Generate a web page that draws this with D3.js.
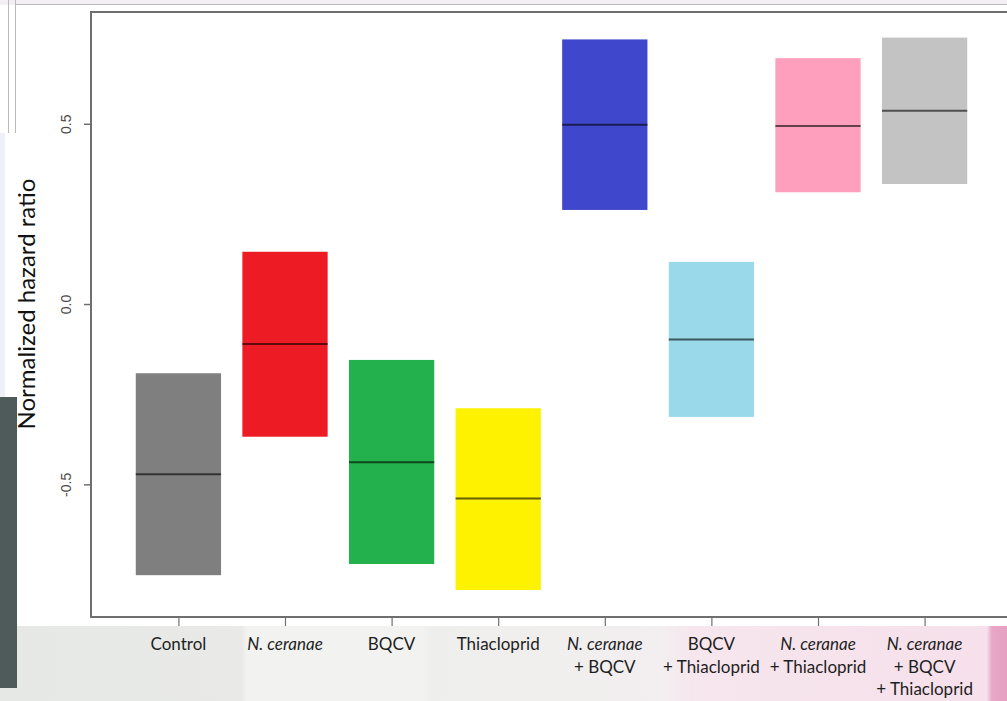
<!DOCTYPE html>
<html>
<head>
<meta charset="utf-8">
<script src="https://cdn.jsdelivr.net/npm/d3@7"></script>
<style>
  html, body { margin: 0; padding: 0; background: #f3f3f1; }
  svg { display: block; }
</style>
</head>
<body>
<svg id="chart" width="1007" height="701"></svg>
<script>
// Treatment groups (label lines; italic marks the species name)
const groups = [
  [[{t: "Control"}]],
  [[{t: "N. ceranae", i: true}]],
  [[{t: "BQCV"}]],
  [[{t: "Thiacloprid"}]],
  [[{t: "N. ceranae", i: true}], [{t: "+ BQCV"}]],
  [[{t: "BQCV"}], [{t: "+ Thiacloprid"}]],
  [[{t: "N. ceranae", i: true}], [{t: "+ Thiacloprid"}]],
  [[{t: "N. ceranae", i: true}], [{t: "+ BQCV"}], [{t: "+ Thiacloprid"}]]
];
// Interval bounds and central estimate of the normalized hazard ratio
const upper  = [-0.192,  0.145, -0.155, -0.289, 0.734,  0.117, 0.682, 0.739];
const lower  = [-0.752, -0.368, -0.721, -0.793, 0.261, -0.313, 0.310, 0.333];
const median = [-0.472, -0.111, -0.439, -0.539, 0.497, -0.098, 0.494, 0.536];
const fills  = ["#7f7f7f", "#ed1c24", "#22b14c", "#fff200", "#3f48cc", "#99d9ea", "#fe9fbd", "#c3c3c3"];
const yTicks = [-0.5, 0.0, 0.5];

const svg = d3.select("#chart");

// --- slide background around the plot ---
const bg = svg.append("g");
const grad = svg.append("defs").append("linearGradient").attr("id", "strip")
  .attr("x1", "0").attr("x2", "1").attr("y1", "0").attr("y2", "0");
[[0, "#e6e8e5"], [0.24, "#e9eae7"], [0.245, "#f2f3f0"], [0.42, "#f2f3f0"],
 [0.43, "#eeefec"], [0.66, "#f3eef0"], [0.69, "#f6e6ed"], [0.98, "#f6e0eb"], [0.985, "#e9a6c6"], [1, "#e6a0c2"]]
  .forEach(([o, c]) => grad.append("stop").attr("offset", o).attr("stop-color", c));
bg.append("rect").attr("x", 0).attr("y", 626).attr("width", 1007).attr("height", 75).attr("fill", "url(#strip)");
bg.append("rect").attr("x", 0).attr("y", 0).attr("width", 1007).attr("height", 5).attr("fill", "#f4eff5");
bg.append("rect").attr("x", 0).attr("y", 5).attr("width", 1007).attr("height", 621).attr("fill", "#ffffff");
bg.append("line").attr("x1", 16).attr("x2", 1007).attr("y1", 4.5).attr("y2", 4.5).attr("stroke", "#b9b9bd").attr("stroke-width", 1);
bg.append("line").attr("x1", 8.5).attr("x2", 8.5).attr("y1", 0).attr("y2", 133).attr("stroke", "#b9b9bd");
bg.append("line").attr("x1", 15.5).attr("x2", 15.5).attr("y1", 0).attr("y2", 133).attr("stroke", "#b9b9bd");
bg.append("rect").attr("x", 0).attr("y", 133).attr("width", 5).attr("height", 264).attr("fill", "#eef2f8");
bg.append("rect").attr("x", 0).attr("y", 397).attr("width", 17).attr("height", 291).attr("fill", "#4f5b5b");

// --- scales ---
const x = d3.scaleLinear().domain([0.18, 8.82]).range([91, 1012]);
const y = d3.scaleLinear().domain([-0.868, 0.81]).range([617, 12]);
const boxW = x(1.8) - x(1);

const plot = svg.append("g");
const idx = d3.range(groups.length);

// boxes
plot.selectAll("rect.box").data(idx).join("rect")
  .attr("class", "box")
  .attr("x", i => x(i + 1) - boxW / 2)
  .attr("width", boxW)
  .attr("y", i => y(upper[i]))
  .attr("height", i => y(lower[i]) - y(upper[i]))
  .attr("fill", i => fills[i]);

// medians
plot.selectAll("line.med").data(idx).join("line")
  .attr("class", "med")
  .attr("x1", i => x(i + 1) - boxW / 2)
  .attr("x2", i => x(i + 1) + boxW / 2)
  .attr("y1", i => y(median[i]))
  .attr("y2", i => y(median[i]))
  .attr("stroke", "#000").attr("stroke-opacity", 0.6).attr("stroke-width", 2);

// frame (left, top, bottom)
const frame = "#6f6f6f";
plot.append("path")
  .attr("d", `M${x.range()[1]},${y(y.domain()[1])}H${x(0.18)}V${y(y.domain()[0])}H${x.range()[1]}`)
  .attr("fill", "none").attr("stroke", frame).attr("stroke-width", 2);

// y axis ticks and labels
const yAxis = svg.append("g").attr("transform", `translate(${x(0.18)},0)`)
  .call(d3.axisLeft(y).tickValues(yTicks).tickSize(7).tickFormat(d3.format(".1f")));
yAxis.select(".domain").remove();
yAxis.selectAll(".tick line").attr("stroke", frame).attr("stroke-width", 1.5);
yAxis.selectAll(".tick text")
  .attr("transform", "rotate(-90)")
  .attr("x", 0).attr("y", -25).attr("dy", "0.35em")
  .attr("text-anchor", "middle")
  .attr("font-family", "Liberation Sans, Arial, sans-serif")
  .attr("font-size", 14).attr("fill", "#4a4a4a")
  .text(d => d3.format(".1f")(d).replace("−", "-"));

// x axis ticks
const xAxis = svg.append("g").attr("transform", `translate(0,${y(y.domain()[0])})`)
  .call(d3.axisBottom(x).tickValues(idx.map(i => i + 1)).tickSize(9).tickFormat(""));
xAxis.select(".domain").remove();
xAxis.selectAll(".tick line").attr("stroke", frame).attr("stroke-width", 1.2);

// x category labels
const lab = svg.append("g")
  .attr("font-family", "Lato, 'Open Sans', sans-serif")
  .attr("font-size", 17).attr("fill", "#1e1e1e").attr("text-anchor", "middle");
idx.forEach(i => {
  groups[i].forEach((line, k) => {
    const t = lab.append("text").attr("x", x(i + 1)).attr("y", 650 + k * 22.5);
    line.forEach(seg => t.append("tspan").text(seg.t).attr("font-style", seg.i ? "italic" : "normal"));
  });
});

// y axis title
svg.append("text")
  .attr("transform", `translate(35,${y(0)}) rotate(-90)`)
  .attr("text-anchor", "middle")
  .attr("font-family", "Lato, 'Open Sans', sans-serif")
  .attr("font-size", 24).attr("fill", "#111")
  .text("Normalized hazard ratio");
</script>
</body>
</html>
